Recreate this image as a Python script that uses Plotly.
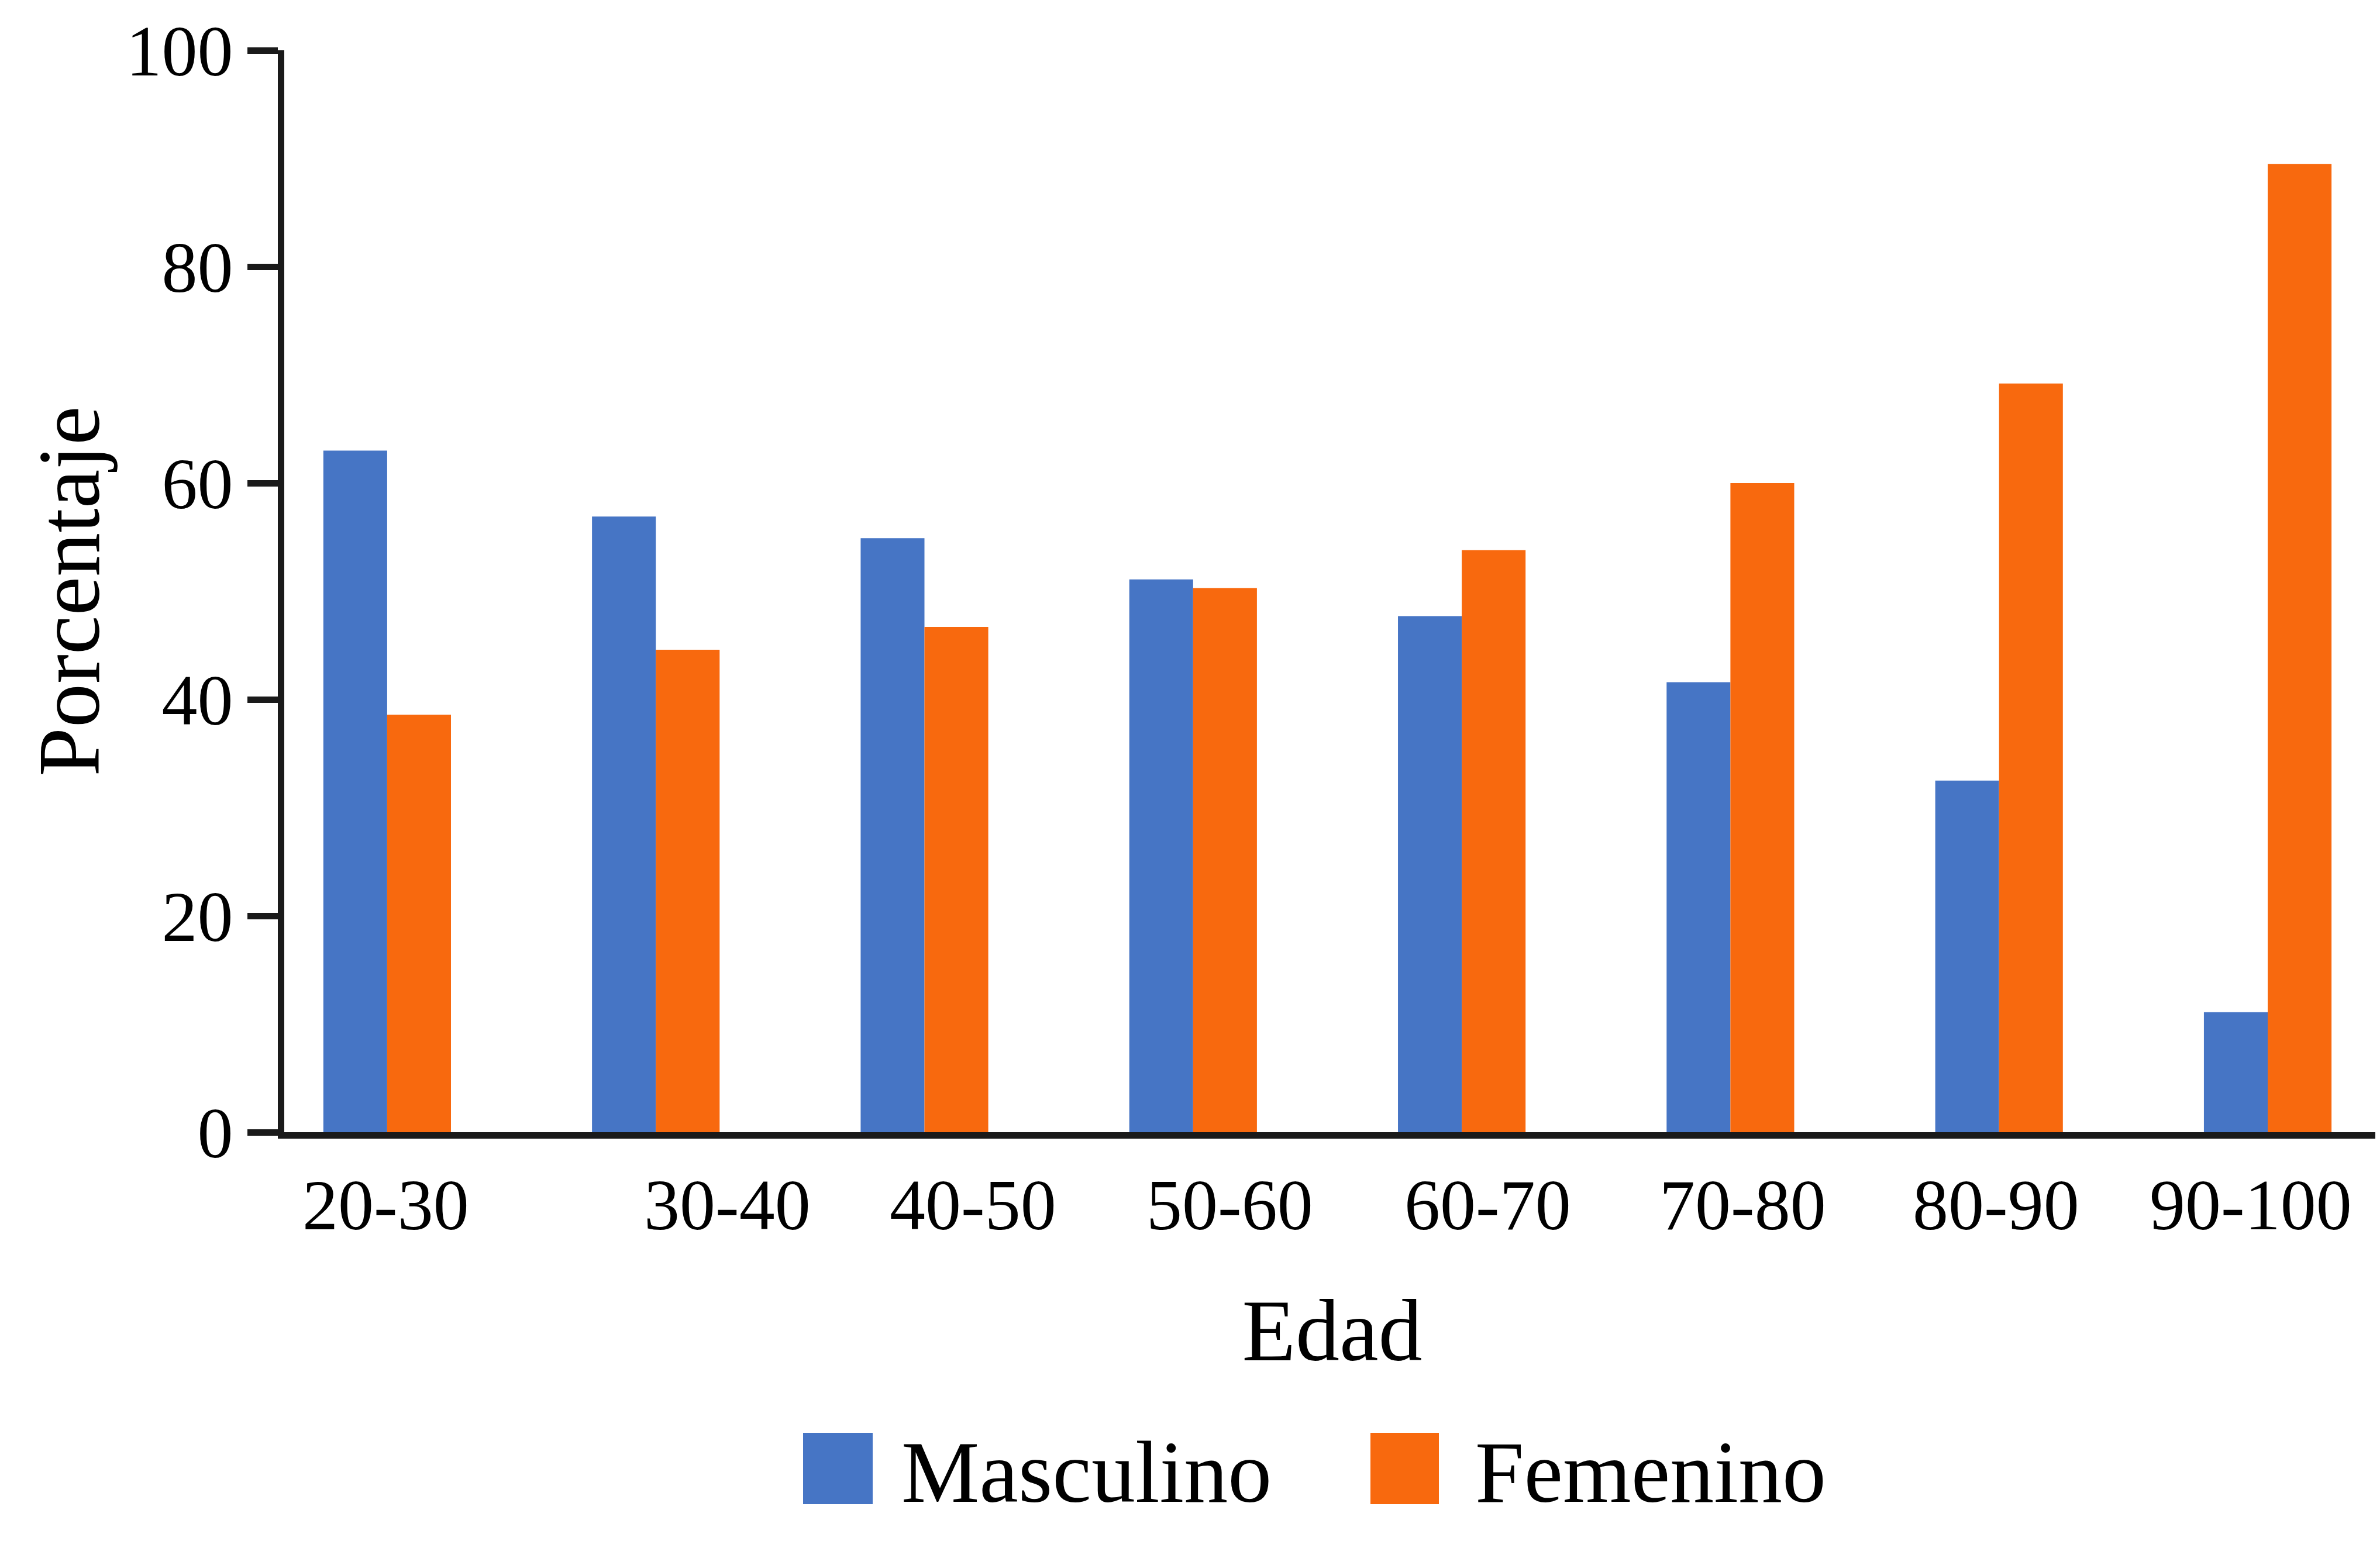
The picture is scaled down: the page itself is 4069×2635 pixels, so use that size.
import plotly.graph_objects as go

# ---- data ----
categories = ["20-30", "30-40", "40-50", "50-60", "60-70", "70-80", "80-90", "90-100"]
masculino = [63.0, 56.9, 54.9, 51.1, 47.7, 41.6, 32.5, 11.1]
femenino = [38.6, 44.6, 46.7, 50.3, 53.8, 60.0, 69.2, 89.5]
series_names = ["Masculino", "Femenino"]
y_ticks = [0, 20, 40, 60, 80, 100]

# ---- style ----
BLUE = "#4675C5"
ORANGE = "#F8690E"
INK = "#1a1a1a"
FONT = "Liberation Serif"
BODY = 8                      # default page margin of the html body
W, H = 4069 - BODY, 2635 - BODY
ML, MR, MT = 486 - BODY, 0, 86 - BODY
PLOT_H = 1850
MB = H - MT - PLOT_H

# label placement offsets (in category units) as in the original figure
label_offsets = [-0.006, 0.266, 0.181, 0.136, 0.096, 0.045, -0.012, -0.063]

fig = go.Figure()
fig.add_trace(go.Bar(x=categories, y=masculino, name=series_names[0],
                     marker=dict(color=BLUE, line=dict(width=0)), showlegend=False))
fig.add_trace(go.Bar(x=categories, y=femenino, name=series_names[1],
                     marker=dict(color=ORANGE, line=dict(width=0)), showlegend=False))

xr = [-0.383, len(categories) - 1 + 0.418]

fig.update_layout(
    width=W, height=H,
    margin=dict(l=ML, r=MR, t=MT, b=MB, pad=0),
    paper_bgcolor="white", plot_bgcolor="white",
    barmode="group", bargap=0.525, bargroupgap=0,
    font=dict(family=FONT, color="black", size=122),
    xaxis=dict(type="category", range=xr, showticklabels=False, ticks="",
               showline=True, linecolor=INK, linewidth=11, showgrid=False,
               zeroline=False,
               title=dict(text="Edad", font=dict(size=150, family=FONT), standoff=279)),
    yaxis=dict(range=[0, 100], tickmode="array", tickvals=y_ticks,
               ticks="outside", ticklen=52, tickwidth=11, tickcolor=INK,
               showline=True, linecolor=INK, linewidth=11, showgrid=False,
               zeroline=False, tickfont=dict(size=122, family=FONT),
               title=dict(text="Porcentaje", font=dict(size=150, family=FONT), standoff=0)),
)

# page pixel -> paper coordinates
def px_x(p):
    return (p - BODY - ML) / (W - ML - MR)

def px_y(p):
    return (MT + PLOT_H - (p - BODY)) / PLOT_H

# category tick labels (placed as in the original, slightly off-centre)
for i, lab in enumerate(categories):
    fig.add_annotation(xref="x", yref="paper", x=i + label_offsets[i], y=px_y(2060),
                       xanchor="center", yanchor="middle", showarrow=False,
                       text=lab, font=dict(size=122, family=FONT, color="black"))

# manual legend (large swatches like the original)
legend_items = [(series_names[0], BLUE, 1373, 1492, 1539), (series_names[1], ORANGE, 2343, 2460, 2520)]
for name, col, x0, x1, tx in legend_items:
    fig.add_shape(type="rect", xref="paper", yref="paper",
                  x0=px_x(x0), x1=px_x(x1), y0=px_y(2572), y1=px_y(2450),
                  fillcolor=col, line=dict(width=0))
    fig.add_annotation(xref="paper", yref="paper", x=px_x(tx), y=px_y(2517),
                       xanchor="left", yanchor="middle", showarrow=False,
                       text=name, font=dict(size=150, family=FONT, color="black"))

fig.write_html("out.html")
